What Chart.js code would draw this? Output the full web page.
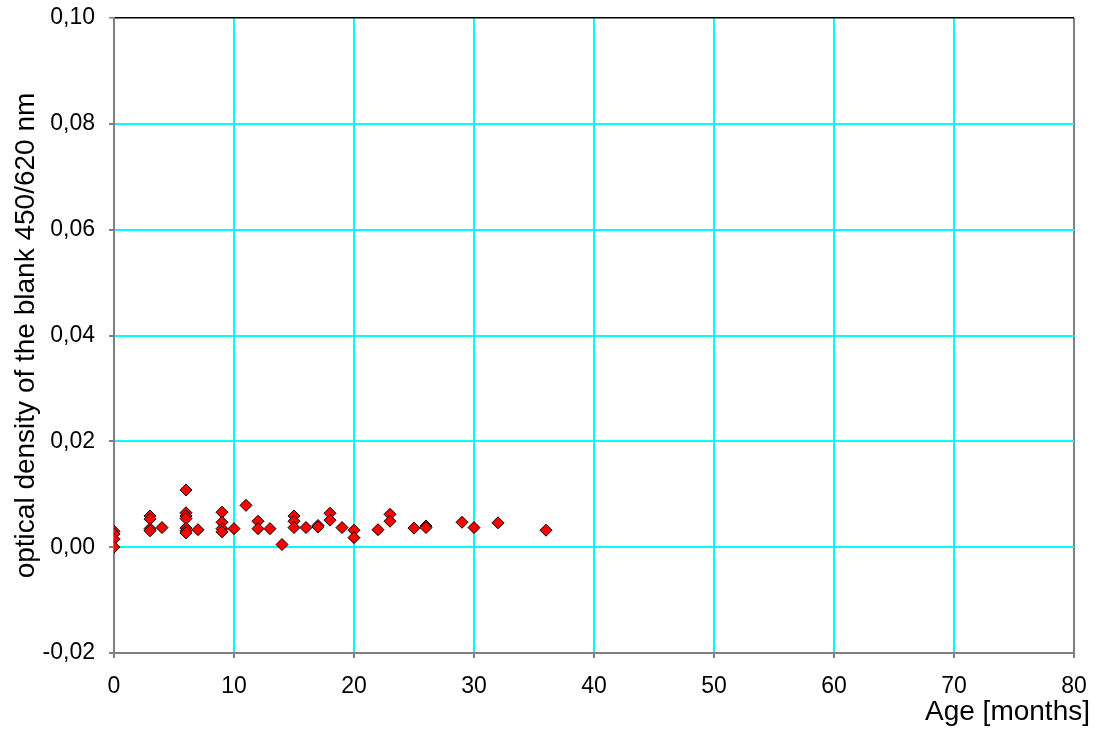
<!DOCTYPE html>
<html>
<head>
<meta charset="utf-8">
<script src="https://cdn.jsdelivr.net/npm/chart.js@4"></script>
<style>
  html, body { margin: 0; padding: 0; background: #fff; overflow: hidden; }
  canvas { display: block; }
</style>
</head>
<body>
<canvas id="blankChart" width="1097" height="731"></canvas>
<script>
// age of the sample in months and the blank's optical density (450/620 nm)
var ageMonths = [0, 0, 0, 0, 3, 3, 3, 3, 4, 6, 6, 6, 6, 6, 6, 6, 7, 9, 9, 9, 9, 10, 11, 12, 12, 13, 14,
  15, 15, 15, 16, 17, 17, 18, 18, 19, 20, 20, 22, 23, 23, 25, 26, 26, 29, 30, 32, 36];
var opticalDensity = [0.003, 0.0025, 0.0015, 0.0, 0.0059, 0.0053, 0.0035, 0.0031, 0.0037,
  0.0108, 0.0065, 0.0059, 0.0054, 0.0036, 0.0031, 0.0027, 0.0033,
  0.0066, 0.0047, 0.0035, 0.0029, 0.0035, 0.0079, 0.0049, 0.0035, 0.0035, 0.0005,
  0.0059, 0.0049, 0.0037, 0.0037, 0.0041, 0.0038, 0.0064, 0.0051, 0.0037, 0.0032, 0.0018,
  0.0033, 0.0062, 0.0049, 0.0036, 0.004, 0.0037, 0.0047, 0.0037, 0.0046, 0.0032];

var xTitle = "Age [months]";
var yTitle = "optical density of the blank 450/620 nm";

var points = ageMonths.map(function (a, i) {
  return { x: a, y: opticalDensity[i] };
});

var fontFamily = "'Liberation Sans', Arial, sans-serif";
var boxGrey = "#808080";
var gridCyan = "#00FFFF";

// last gridline on each axis is the plot frame
var xGridColors = [boxGrey, gridCyan, gridCyan, gridCyan, gridCyan, gridCyan, gridCyan, gridCyan, boxGrey];
var yGridColors = [boxGrey, gridCyan, gridCyan, gridCyan, gridCyan, gridCyan, "#000000"];

// x title sits right-aligned past the plot edge, so draw it by hand
var xTitlePlugin = {
  id: "xTitle",
  afterDraw: function (chart) {
    var ctx = chart.ctx;
    ctx.save();
    ctx.font = "28px " + fontFamily;
    ctx.fillStyle = "#000";
    ctx.textAlign = "right";
    ctx.textBaseline = "middle";
    ctx.fillText(xTitle, chart.chartArea.right + 16, 712);
    ctx.restore();
  }
};

new Chart(document.getElementById("blankChart").getContext("2d"), {
  type: "scatter",
  data: {
    datasets: [{
      data: points,
      pointStyle: "rectRot",
      pointRadius: 6,
      pointBackgroundColor: "#FF0000",
      pointBorderColor: "#000000",
      pointBorderWidth: 1
    }]
  },
  options: {
    responsive: false,
    animation: false,
    devicePixelRatio: 1,
    layout: { padding: { top: 18, right: 23, left: 0, bottom: 0 } },
    plugins: {
      legend: { display: false },
      tooltip: { enabled: false }
    },
    scales: {
      x: {
        type: "linear",
        min: 0,
        max: 80,
        afterFit: function (scale) {
          scale.height = 78;
          scale.paddingLeft = 0;
          scale.paddingRight = 0;
        },
        border: { color: boxGrey, width: 2 },
        grid: {
          color: function (c) { return xGridColors[c.index] || gridCyan; },
          tickColor: boxGrey,
          tickLength: 5,
          lineWidth: 2
        },
        ticks: {
          stepSize: 10,
          padding: 15,
          color: "#000",
          font: { family: fontFamily, size: 23 },
          maxRotation: 0
        }
      },
      y: {
        min: -0.02,
        max: 0.1,
        afterFit: function (scale) {
          scale.width = 114;
          scale.paddingTop = 0;
          scale.paddingBottom = 0;
        },
        border: { color: boxGrey, width: 2 },
        grid: {
          color: function (c) { return yGridColors[c.index] || gridCyan; },
          lineWidth: function (c) { return c.index === 6 ? 1.5 : 2; },
          tickColor: boxGrey,
          tickLength: 5
        },
        ticks: {
          stepSize: 0.02,
          padding: 14,
          color: "#000",
          font: { family: fontFamily, size: 23 },
          callback: function (v) { return (Math.round(v * 100) / 100).toFixed(2).replace(".", ","); }
        },
        title: {
          display: true,
          text: yTitle,
          color: "#000",
          font: { family: fontFamily, size: 28, weight: "normal" },
          padding: { top: 9, bottom: 0 }
        }
      }
    }
  },
  plugins: [xTitlePlugin]
});
</script>
</body>
</html>
